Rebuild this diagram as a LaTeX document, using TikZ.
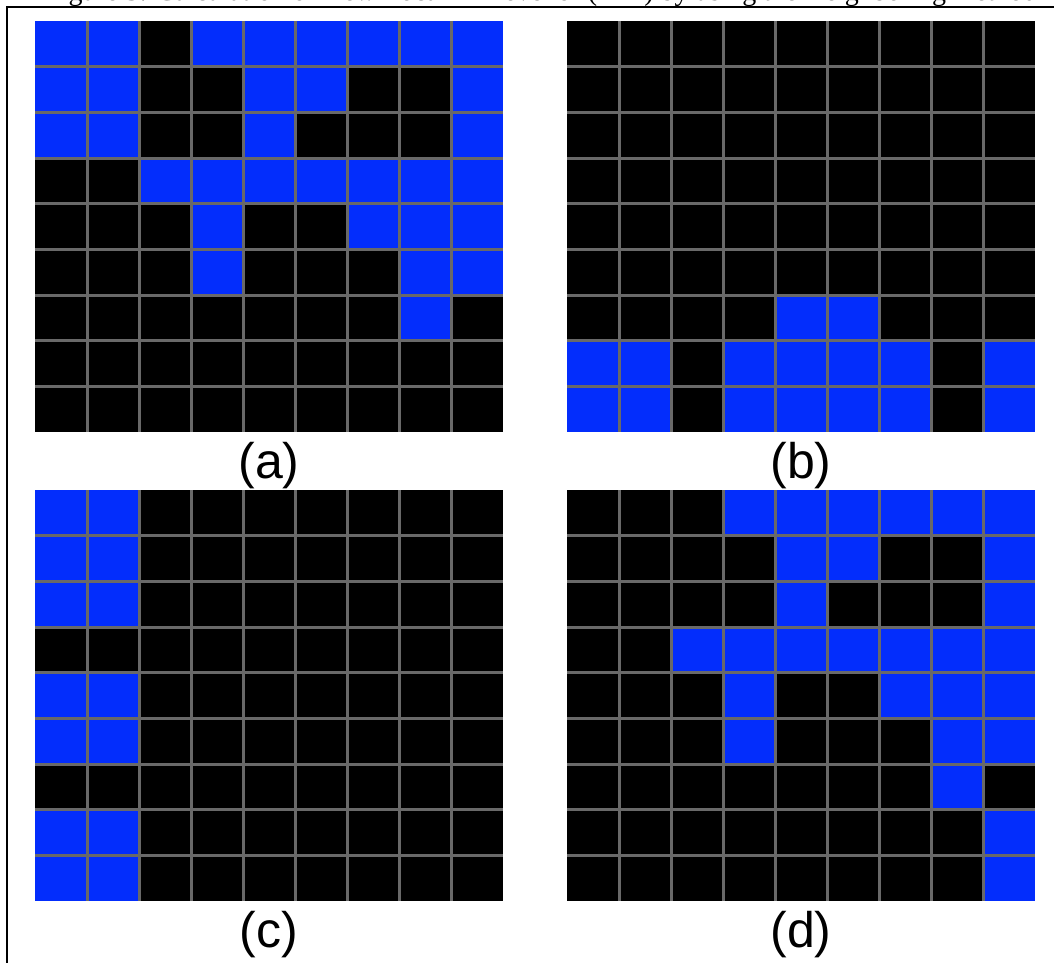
\documentclass[tikz,border=0pt]{standalone}
\usepackage{fontspec}
\setmainfont{Liberation Serif}
\newfontfamily\labelfont{Liberation Sans}
\usetikzlibrary{positioning}
\definecolor{cellblue}{RGB}{3,45,252}
\definecolor{gridgray}{RGB}{105,105,105}
\colorlet{cell0}{black}
\colorlet{cell1}{cellblue}

\tikzset{
  panellabel/.style={font=\labelfont\fontsize{50}{50}\selectfont,inner sep=0pt},
  captiontext/.style={font=\fontsize{28}{28}\selectfont,inner sep=0pt,anchor=base west},
  gridline/.style={gridgray,line width=3pt},
  frameline/.style={black,line width=2pt},
}

% 9x9 cell map: #1 left, #2 top, #3 rows (1 = blue)
\newcommand{\cellmap}[3]{
  \foreach \row [count=\r] in {#3}{
    \foreach \c [count=\k] in \row{
      \fill[cell\c] (#1+52*\k-52,#2+45.67*\r-45.67) rectangle ++(52,45.67);
    }
  }
  \foreach \i in {1,...,8}{
    \draw[gridline] (#1+52*\i,#2) -- ++(0,411);
    \draw[gridline] (#1,#2+45.67*\i) -- ++(468,0);
  }
}

\begin{document}
\begin{tikzpicture}[x=1pt,y=-1pt]
  \useasboundingbox (0,0) rectangle (1054,963);
  % caption, cut by the top edge
  \node[captiontext] (caption) at (45,1)
    {Figure 3: Calculation of New Local Tri-level of (LTP) by using the Neighboring method};
  \draw[frameline] (7,963) -- (7,7) -- (1054,7);

  % (a)
  \cellmap{35}{21}{{1,1,0,1,1,1,1,1,1},{1,1,0,0,1,1,0,0,1},{1,1,0,0,1,0,0,0,1},
    {0,0,1,1,1,1,1,1,1},{0,0,0,1,0,0,1,1,1},{0,0,0,1,0,0,0,1,1},
    {0,0,0,0,0,0,0,1,0},{0,0,0,0,0,0,0,0,0},{0,0,0,0,0,0,0,0,0}}
  % (b)
  \cellmap{567}{21}{{0,0,0,0,0,0,0,0,0},{0,0,0,0,0,0,0,0,0},{0,0,0,0,0,0,0,0,0},
    {0,0,0,0,0,0,0,0,0},{0,0,0,0,0,0,0,0,0},{0,0,0,0,0,0,0,0,0},
    {0,0,0,0,1,1,0,0,0},{1,1,0,1,1,1,1,0,1},{1,1,0,1,1,1,1,0,1}}
  % (c)
  \cellmap{35}{490}{{1,1,0,0,0,0,0,0,0},{1,1,0,0,0,0,0,0,0},{1,1,0,0,0,0,0,0,0},
    {0,0,0,0,0,0,0,0,0},{1,1,0,0,0,0,0,0,0},{1,1,0,0,0,0,0,0,0},
    {0,0,0,0,0,0,0,0,0},{1,1,0,0,0,0,0,0,0},{1,1,0,0,0,0,0,0,0}}
  % (d)
  \cellmap{567}{490}{{0,0,0,1,1,1,1,1,1},{0,0,0,0,1,1,0,0,1},{0,0,0,0,1,0,0,0,1},
    {0,0,1,1,1,1,1,1,1},{0,0,0,1,0,0,1,1,1},{0,0,0,1,0,0,0,1,1},
    {0,0,0,0,0,0,0,1,0},{0,0,0,0,0,0,0,0,1},{0,0,0,0,0,0,0,0,1}}

  \node[panellabel] (la) at (269,466) {(a)};
  \node[panellabel] (lb) at (801,466) {(b)};
  \node[panellabel] (lc) at (269,935) {(c)};
  \node[panellabel] (ld) at (801,935) {(d)};
\end{tikzpicture}
\end{document}
